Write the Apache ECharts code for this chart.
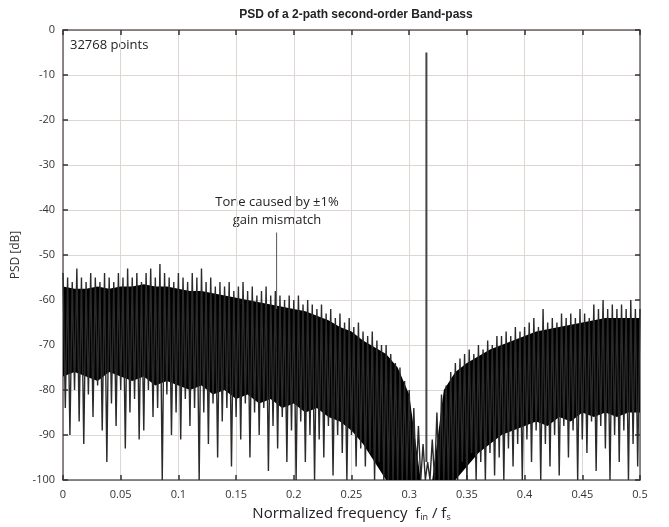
<!DOCTYPE html>
<html>
<head>
<meta charset="utf-8">
<script src="https://cdn.jsdelivr.net/npm/echarts@6/dist/echarts.min.js"></script>
<style>html,body{margin:0;background:#fff}#main{width:669px;height:527px}</style>
</head>
<body>
<div id="main"></div>
<script>
// PSD, one value every 0.002 (peaks and dips alternate)
var freqStep = 0.002;
var psdDb = [
  -54, -84, -55, -90, -56, -80, -53, -87, -55, -92,
  -56, -81, -54, -86, -55, -79, -56, -89, -54, -96,
  -55, -83, -56, -88, -54, -80, -55, -93, -53, -85,
  -55, -82, -54, -91, -56, -89, -54, -80, -53, -86,
  -55, -84, -52, -100, -54, -81, -55, -90, -56, -85,
  -54, -91, -55, -82, -56, -88, -54, -84, -55, -100,
  -53, -85, -56, -92, -55, -83, -57, -95, -56, -87,
  -57, -84, -56, -97, -58, -86, -57, -91, -56, -83,
  -58, -95, -57, -85, -59, -90, -58, -84, -57, -98,
  -59, -88, -58, -93, -59, -86, -60, -96, -59, -89,
  -60, -100, -59, -87, -61, -96, -60, -90, -61, -100,
  -62, -91, -61, -95, -63, -88, -62, -99, -64, -90,
  -63, -94, -65, -100, -64, -90, -66, -97, -65, -93,
  -67, -97, -68, -94, -67, -100, -69, -96, -70, -100,
  -70, -100, -72, -100, -74, -100, -75, -100, -78, -100,
  -80, -100, -84, -100, -88, -100, -92, -100, -96, -100,
  -91, -100, -85, -100, -81, -100, -79, -100, -76, -100,
  -74, -100, -73, -96, -72, -100, -71, -94, -72, -100,
  -70, -96, -71, -100, -69, -94, -70, -99, -68, -95,
  -68, -100, -67, -93, -68, -97, -66, -92, -67, -100,
  -66, -91, -65, -96, -64, -89, -66, -100, -62, -92,
  -65, -97, -64, -90, -65, -99, -63, -88, -64, -95,
  -63, -89, -64, -100, -62, -91, -63, -94, -64, -87,
  -61, -98, -62, -88, -60, -93, -62, -100, -61, -90,
  -62, -96, -61, -89, -62, -100, -60, -92, -62, -97,
  -62
];
// solid black part of the noise, top and bottom, every 0.01
var coreStep = 0.01;
var coreTopDb = [
  -57, -57.5, -57.5, -57, -57.5, -57, -57, -56.5, -57, -57,
  -57.5, -58, -58, -58.5, -59, -59.5, -60, -60.5, -61, -61.5,
  -62, -62.5, -63.5, -64.5, -66, -67, -69, -70.5, -72, -75,
  -81, -100, -100, -80, -76, -74, -72.5, -71, -70, -69,
  -68, -67, -66.5, -66, -65.5, -65, -64.5, -64, -64, -64,
  -64
];
var coreBottomDb = [
  -77, -76, -77, -78, -76, -77, -78, -77, -79, -78,
  -79, -80, -79, -81, -80, -82, -81, -83, -82, -84,
  -83, -85, -84, -86, -87, -89, -92, -96, -100, -100,
  -100, -100, -100, -100, -100, -97, -94, -92, -90, -89,
  -88, -87, -88, -86, -87, -85, -86, -85, -86, -85,
  -85
];
// the signal tone and its image from the gain mismatch
var toneFreq = [0.3149, 0.1851];
var toneTopDb = [-5, -45];
var toneBaseDb = [-96, -62];

var myChart = echarts.init(document.getElementById('main'));

var frameColor = '#6a6360';
var gridColor = '#ddd6d2';
var labelFont = 'Open Sans';

function boxAxis(pos, show) {
  return {
    type: 'value', position: pos,
    axisLine: { show: true, onZero: false, lineStyle: { color: frameColor, width: 1.5 } },
    axisTick: { show: true, inside: true, length: 5, lineStyle: { color: '#333', width: 1.5 } },
    axisLabel: { show: show, color: '#333', fontFamily: labelFont, fontSize: 11 },
    splitLine: { show: show, lineStyle: { color: gridColor, width: 1 } }
  };
}

var xMain = boxAxis('bottom', true);
xMain.min = 0; xMain.max = 0.5; xMain.interval = 0.05;
xMain.axisLabel.margin = 9;
xMain.name = 'Normalized frequency  f{s|in} / f{s|s}';
xMain.nameLocation = 'middle';
xMain.nameGap = 25;
xMain.nameTextStyle = {
  color: '#222', fontFamily: labelFont, fontSize: 15,
  rich: { s: { fontSize: 9, fontFamily: labelFont, color: '#222', verticalAlign: 'bottom', padding: [8, 0, 0, 0] } }
};
var xTop = boxAxis('top', false);
xTop.min = 0; xTop.max = 0.5; xTop.interval = 0.05;

var yMain = boxAxis('left', true);
yMain.min = -100; yMain.max = 0; yMain.interval = 10;
yMain.name = 'PSD [dB]';
yMain.nameLocation = 'middle';
yMain.nameGap = 38;
yMain.nameTextStyle = { color: '#333', fontFamily: labelFont, fontSize: 12 };
var yRight = boxAxis('right', false);
yRight.min = -100; yRight.max = 0; yRight.interval = 10;

var series = [
  {
    // solid band of the noise floor as one polygon
    type: 'custom',
    data: coreTopDb.map(function (v, i) { return [i * coreStep, v, coreBottomDb[i]]; }),
    renderItem: function (params, api) {
      if (params.dataIndex !== 0) return;
      var pts = [];
      coreTopDb.forEach(function (v, i) { pts.push(api.coord([i * coreStep, v])); });
      for (var i = coreBottomDb.length - 1; i >= 0; i--) {
        pts.push(api.coord([i * coreStep, coreBottomDb[i]]));
      }
      return { type: 'polygon', shape: { points: pts }, style: { fill: '#000' } };
    },
    encode: { x: 0, y: [1, 2] },
    clip: true, silent: true, z: 2
  },
  {
    type: 'line',
    data: psdDb.map(function (v, i) { return [i * freqStep, v]; }),
    showSymbol: false,
    sampling: 'none',
    lineStyle: { color: '#2a2a2a', width: 1.4 },
    z: 3
  }
];
toneFreq.forEach(function (f, k) {
  series.push({
    type: 'line',
    data: [[f, toneBaseDb[k]], [f, toneTopDb[k]]],
    showSymbol: false,
    lineStyle: { color: k === 0 ? '#444' : '#555', width: k === 0 ? 2 : 1 },
    z: 4
  });
});

var option = {
  backgroundColor: '#fff',
  animation: false,
  title: {
    text: 'PSD of a 2-path second-order Band-pass',
    left: 351, top: 4, textAlign: 'center',
    textStyle: { fontFamily: 'Liberation Sans', fontWeight: 'bold', fontSize: 12, color: '#222' }
  },
  grid: { left: 63, right: 29, top: 30, bottom: 42 },
  xAxis: [xMain, xTop],
  yAxis: [yMain, yRight],
  series: series,
  graphic: [
    { type: 'text', left: 70, top: 39,
      style: { text: '32768 points', fontFamily: labelFont, fontSize: 13, fill: '#222' } },
    { type: 'text', x: 277, y: 193,
      style: { text: 'Tone caused by \u00b11%\ngain mismatch', align: 'center', lineHeight: 18,
               fontFamily: labelFont, fontSize: 13, fill: '#222' } }
  ]
};
myChart.setOption(option);
</script>
</body>
</html>
